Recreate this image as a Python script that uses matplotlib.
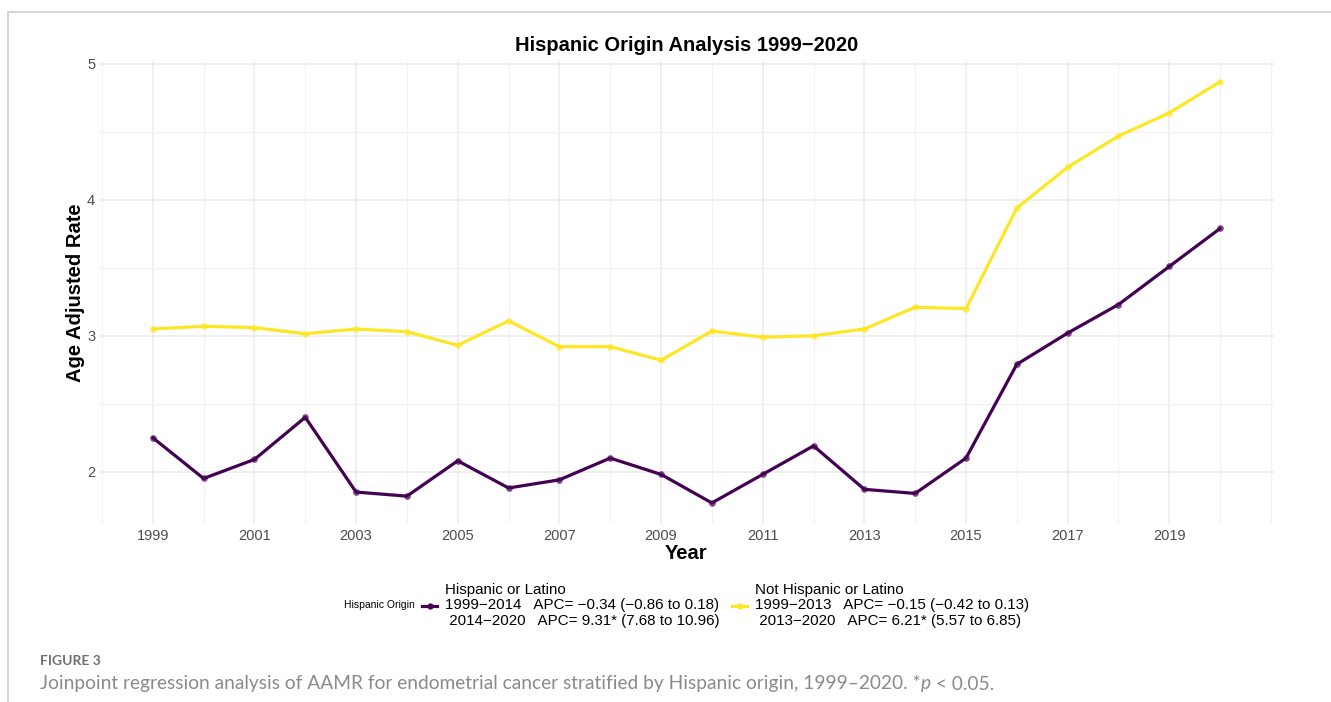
import matplotlib
matplotlib.use("Agg")
import matplotlib.pyplot as plt
from matplotlib.lines import Line2D
from matplotlib.ticker import MultipleLocator

plt.rcParams['font.family'] = ['Liberation Sans', 'DejaVu Sans']

years = list(range(1999, 2021))
hispanic = [2.25, 1.95, 2.09, 2.40, 1.85, 1.82, 2.08, 1.88, 1.94, 2.10, 1.98,
            1.77, 1.98, 2.19, 1.87, 1.84, 2.10, 2.79, 3.02, 3.23, 3.51, 3.79]
not_hispanic = [3.05, 3.07, 3.06, 3.015, 3.05, 3.03, 2.93, 3.11, 2.92, 2.92, 2.82,
                3.035, 2.99, 3.00, 3.05, 3.21, 3.20, 3.94, 4.24, 4.47, 4.64, 4.87]

group_labels = [
    "Hispanic or Latino\n1999\u22122014   APC= \u22120.34 (\u22120.86 to 0.18)\n"
    " 2014\u22122020   APC= 9.31* (7.68 to 10.96)",
    "Not Hispanic or Latino\n1999\u22122013   APC= \u22120.15 (\u22120.42 to 0.13)\n"
    " 2013\u22122020   APC= 6.21* (5.57 to 6.85)",
]
colors = ["#440154", "#FDE725"]
x_ticks = list(range(1999, 2021, 2))
y_ticks = [2, 3, 4, 5]

W, H = 1331, 702
fig = plt.figure(figsize=(W / 100, H / 100), dpi=100)
fig.patch.set_facecolor("white")

# panel placement in pixels
left_px, right_px, top_px, bottom_px = 99.4, 1273.5, 60.6, 524
ax = fig.add_axes([left_px / W, 1 - bottom_px / H,
                   (right_px - left_px) / W, (bottom_px - top_px) / H])
ax.set_xlim(1997.95, 2021.05)
ax.set_ylim(1.615, 5.025)

ax.set_xticks(x_ticks)
ax.xaxis.set_minor_locator(MultipleLocator(1))
ax.set_yticks(y_ticks)
ax.yaxis.set_minor_locator(MultipleLocator(0.5))
ax.grid(which="major", color="#EBEBEB", lw=1.1)
ax.grid(which="minor", color="#F2F2F2", lw=0.8)
ax.set_axisbelow(True)
for s in ax.spines.values():
    s.set_visible(False)
ax.tick_params(which="both", length=0)
ax.tick_params(axis="both", labelsize=10.5, labelcolor="#4D4D4D")
ax.tick_params(axis="x", pad=3.5)
ax.tick_params(axis="y", pad=3)

handles = []
for vals, col, lab in zip([hispanic, not_hispanic], colors, group_labels):
    ax.plot(years, vals, color=col, lw=2.3, solid_capstyle="round", zorder=3)
    ax.plot(years, vals, ls="none", marker="o", ms=4.8, color=col,
            alpha=0.7, mec="none", zorder=4)
    handles.append(Line2D([], [], color=col, lw=2.3, marker="o", ms=4.5,
                          mec="none", label=lab))

ax.set_title("Hispanic Origin Analysis 1999\u22122020", fontsize=14.5,
             fontweight="bold", pad=7)
ax.set_xlabel("Year", fontsize=14.5, fontweight="bold", labelpad=1)
ax.set_ylabel("Age Adjusted Rate", fontsize=14.5, fontweight="bold", labelpad=1.5)

leg = fig.legend(handles=handles, loc="center left", ncol=2, frameon=False,
                 bbox_to_anchor=(422 / W, 1 - 605.5 / H), fontsize=10.9,
                 handlelength=1.0, handletextpad=0.5, columnspacing=0.85,
                 borderaxespad=0, borderpad=0)
for t in leg.get_texts():
    t.set_linespacing(1.15)
fig.text(415 / W, 1 - 605 / H, "Hispanic Origin", fontsize=7.5,
         ha="right", va="center")

# page frame
frame_col = "#D3D3D3"
fig.add_artist(Line2D([8 / W, 8 / W], [0, 1 - 12 / H], transform=fig.transFigure,
                      color=frame_col, lw=1.4))
fig.add_artist(Line2D([8 / W, 1], [1 - 12 / H, 1 - 12 / H], transform=fig.transFigure,
                      color=frame_col, lw=1.4))

# figure caption
fig.text(40 / W, 1 - 661 / H, "FIGURE 3", fontsize=10, color="#707070",
         family=["Lato", "DejaVu Sans"], fontweight="bold", va="center")
cap_kw = dict(fontsize=13.8, color="#8A8A8A", family=["Lato", "DejaVu Sans"],
              fontweight="normal", va="center")
cy = 1 - 684 / H
fig.canvas.draw()
renderer = fig.canvas.get_renderer()
x0 = 40 / W
pieces = [("Joinpoint regression analysis of AAMR for endometrial cancer stratified "
           "by Hispanic origin, 1999\u20132020. *", "normal"),
          ("p", "italic"), (" < 0.05.", "normal")]
for txt, style in pieces:
    t = fig.text(x0, cy, txt, style=style, **cap_kw)
    bb = t.get_window_extent(renderer=renderer)
    x0 = bb.x1 / W

fig.savefig("out.png", dpi=100, facecolor="white")
